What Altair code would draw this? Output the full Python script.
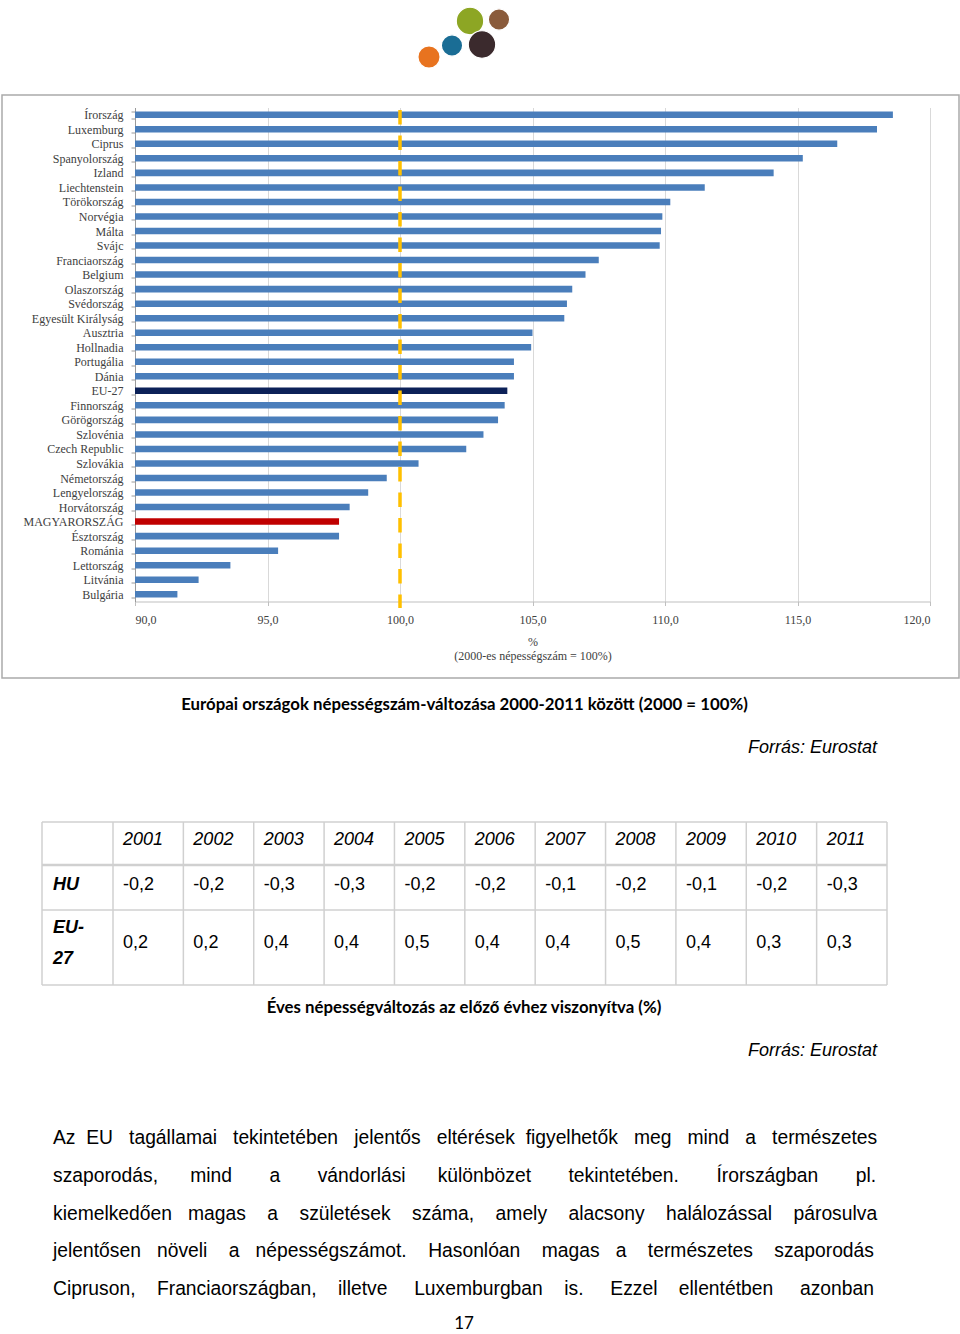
import altair as alt
import pandas as pd

# ---------------- data ----------------
COUNTRIES = ["Írország", "Luxemburg", "Ciprus", "Spanyolország", "Izland", "Liechtenstein",
             "Törökország", "Norvégia", "Málta", "Svájc", "Franciaország", "Belgium",
             "Olaszország", "Svédország", "Egyesült Királyság", "Ausztria", "Hollnadia",
             "Portugália", "Dánia", "EU-27", "Finnország", "Görögország", "Szlovénia",
             "Czech Republic", "Szlovákia", "Németország", "Lengyelország", "Horvátország",
             "MAGYARORSZÁG", "Észtország", "Románia", "Lettország", "Litvánia", "Bulgária"]
VALUES = [118.6, 118.0, 116.5, 115.2, 114.1, 111.5,
          110.2, 109.9, 109.85, 109.8, 107.5, 107.0,
          106.5, 106.3, 106.2, 105.0, 104.95,
          104.3, 104.3, 104.05, 103.95, 103.7, 103.15,
          102.5, 100.7, 99.5, 98.8, 98.1,
          97.7, 97.7, 95.4, 93.6, 92.4, 91.6]
REF = [100.0]
BASE = 90
X_TICKS = [90, 95, 100, 105, 110, 115, 120]

YEARS = [2001, 2002, 2003, 2004, 2005, 2006, 2007, 2008, 2009, 2010, 2011]
HU = [-0.2, -0.2, -0.3, -0.3, -0.2, -0.2, -0.1, -0.2, -0.1, -0.2, -0.3]
EU = [0.2, 0.2, 0.4, 0.4, 0.5, 0.4, 0.4, 0.5, 0.4, 0.3, 0.3]

CAPTION1 = "Európai országok népességszám-változása 2000-2011 között (2000 = 100%)"
CAPTION2 = "Éves népességváltozás az előző évhez viszonyítva (%)"
SOURCE = "Forrás: Eurostat"
PARAGRAPH = [
    "Az EU tagállamai tekintetében jelentős eltérések figyelhetők meg mind a természetes",
    "szaporodás, mind a vándorlási különbözet tekintetében. Írországban pl.",
    "kiemelkedően magas a születések száma, amely alacsony halálozással párosulva",
    "jelentősen növeli a népességszámot. Hasonlóan magas a természetes szaporodás",
    "Cipruson, Franciaországban, illetve Luxemburgban is. Ezzel ellentétben azonban",
]
PAGE = "17"

# ---------------- layout helpers ----------------
OX, OY = 135, 107.5          # plot origin on the page
W, H = 795, 494              # plot area size


def px(x):
    return x - OX


def py(y):
    return y - OY


SERIF = "Liberation Serif"
SANS = "Liberation Sans"
CAP_FONT = "Lato"

# Arial / Liberation Sans advance widths (per 1000 em) for justification
AW = dict(zip("abcdefghijklmnopqrstuvwxyz",
              [556, 556, 500, 556, 556, 278, 556, 556, 222, 222, 500, 222, 833,
               556, 556, 556, 556, 333, 500, 278, 556, 500, 722, 500, 500, 500]))
AW.update(dict(zip("ABCDEFGHIJKLMNOPQRSTUVWXYZ",
                   [667, 667, 722, 722, 667, 611, 778, 722, 278, 500, 667, 556, 833,
                    722, 778, 667, 778, 722, 667, 611, 722, 667, 944, 667, 667, 611])))
AW.update({"á": 556, "é": 556, "í": 278, "ó": 556, "ö": 556, "ő": 556, "ú": 556,
           "ü": 556, "ű": 556, "Í": 278, "É": 667, ",": 278, ".": 278, "-": 333, " ": 278})


def justify(line, width, size):
    """Stretch a line to the given width with non-breaking spaces (justified text)."""
    words = line.split(" ")
    nat = sum(AW.get(c, 556) for w in words for c in w) * size / 1000
    gaps = len(words) - 1
    sp = 278 * size / 1000
    total = max(gaps, round((width - nat) / sp))
    base, rem = divmod(total, gaps)
    out = words[0]
    for i, w in enumerate(words[1:]):
        extra = 1 if ((i + 1) * rem) // gaps > (i * rem) // gaps else 0
        out += "\u00a0" * (base + extra) + w
    return out


def label(text, x, y, size, font=SANS, align="left", weight="normal", style="normal", color="#000000"):
    return alt.Chart(pd.DataFrame({"t": [text]})).mark_text(
        align=align, baseline="middle", font=font, fontSize=size,
        fontWeight=weight, fontStyle=style, color=color
    ).encode(text="t:N", x=alt.value(px(x)), y=alt.value(py(y)))


one = pd.DataFrame({"k": [0]})


def hline(x1, x2, y, color="#D0D0D0", w=1.5):
    return alt.Chart(one).mark_rule(color=color, strokeWidth=w).encode(
        x=alt.value(px(x1)), x2=alt.value(px(x2)), y=alt.value(py(y)))


def vline(x, y1, y2, color="#D0D0D0", w=1.5):
    return alt.Chart(one).mark_rule(color=color, strokeWidth=w).encode(
        x=alt.value(px(x)), y=alt.value(py(y1)), y2=alt.value(py(y2)))


def dot(x, y, r, color):
    return alt.Chart(one).mark_circle(color=color, opacity=1, size=3.1416 * r * r,
                                      stroke="white", strokeWidth=1.2).encode(
        x=alt.value(px(x)), y=alt.value(py(y)))


# ---------------- logo ----------------
logo = [dot(429, 57, 12.5, "#E8731F"), dot(452, 45.5, 12, "#1A6D95"),
        dot(470, 21, 15.5, "#8DA624"), dot(499, 19.5, 12, "#8A5B3B"),
        dot(482, 44.5, 15.5, "#3B2A2D")]

# ---------------- chart box ----------------
box = alt.Chart(one).mark_rect(fill=None, stroke="#ABABAB", strokeWidth=1.5).encode(
    x=alt.value(px(2)), x2=alt.value(px(959)), y=alt.value(py(95)), y2=alt.value(py(678)))

# ---------------- bar chart ----------------
df = pd.DataFrame({"country": COUNTRIES, "value": VALUES})
X_ENC = alt.X(
    "value:Q",
    scale=alt.Scale(domain=[X_TICKS[0], X_TICKS[-1]], nice=False, zero=False),
    axis=alt.Axis(
        values=X_TICKS,
        labelExpr="replace(format(datum.value, '.1f'), '.', ',')",
        title=["%", "(2000-es népességszám = 100%)"],
        grid=True, gridColor="#D9D9D9", gridWidth=1,
        domainColor="#BFBFBF", tickColor="#BFBFBF", tickSize=4,
        labelFont=SERIF, labelFontSize=12, labelColor="#404040", labelPadding=9,
        titleFont=SERIF, titleFontSize=12, titleFontWeight="normal", titleColor="#404040",
        titlePadding=11, titleLineHeight=14,
    ),
)
bars = alt.Chart(df).mark_bar().encode(
    x=X_ENC,
    x2=alt.datum(BASE),
    y=alt.Y("country:N", sort=COUNTRIES,
            scale=alt.Scale(paddingInner=0.55, paddingOuter=0.275),
            axis=alt.Axis(title=None, labelFont=SERIF, labelFontSize=12, labelColor="#404040",
                          tickBand="extent", tickSize=4, tickColor="#9A9A9A",
                          domainColor="#9A9A9A", labelPadding=8, labelLimit=300, grid=False)),
    color=alt.when(alt.datum.country == "EU-27").then(alt.value("#0C2158"))
    .when(alt.datum.country == "MAGYARORSZÁG").then(alt.value("#C00000"))
    .otherwise(alt.value("#4A7EBB")),
)
ref_line = alt.Chart(pd.DataFrame({"value": REF})).mark_rule(
    color="#FFC000", strokeWidth=3.5, strokeDash=[14.5, 11]
).encode(x=X_ENC, y=alt.value(py(110)), y2=alt.value(py(608)))
bar_chart = alt.layer(bars, ref_line)

# ---------------- table ----------------
tdf = pd.DataFrame({"year": YEARS, "hu": HU, "eu": EU})
YX = alt.X("year:O",
           scale=alt.Scale(type="band", domain=YEARS, range=[px(113), px(887)],
                           paddingInner=0, paddingOuter=0),
           axis=None, bandPosition=0)
num = lambda f: "(datum.%s < 0 ? '-' : '') + replace(format(abs(datum.%s), '.1f'), '.', ',')" % (f, f)
tcell = dict(align="left", baseline="middle", dx=10, font=SANS, fontSize=18, color="#000000")
t_head = alt.Chart(tdf).mark_text(fontStyle="italic", **tcell).encode(
    x=YX, y=alt.value(py(840)), text="year:N")
t_hu = alt.Chart(tdf).transform_calculate(lbl=num("hu")).mark_text(**tcell).encode(
    x=YX, y=alt.value(py(885)), text="lbl:N")
t_eu = alt.Chart(tdf).transform_calculate(lbl=num("eu")).mark_text(**tcell).encode(
    x=YX, y=alt.value(py(943)), text="lbl:N")
t_vl = alt.Chart(tdf).mark_rule(color="#D0D0D0", strokeWidth=1.5).encode(
    x=YX, y=alt.value(py(822)), y2=alt.value(py(985)))
table = alt.layer(t_vl, t_head, t_hu, t_eu)

table_frame = [hline(42, 887, 822), hline(42, 887, 865, w=2.5), hline(42, 887, 910),
               hline(42, 887, 985), vline(42, 822, 985), vline(887, 822, 985)]
row_heads = [label("HU", 53, 885, 18, weight="bold", style="italic"),
             label("EU-", 53, 928, 18, weight="bold", style="italic"),
             label("27", 53, 959, 18, weight="bold", style="italic")]

# ---------------- captions and text ----------------
texts = [
    label(CAPTION1, 464.5, 705, 16.8, font=CAP_FONT, align="center", weight="bold"),
    label(SOURCE, 877, 748, 18, align="right", style="italic"),
    label(CAPTION2, 464, 1008, 16.8, font=CAP_FONT, align="center", weight="bold"),
    label(SOURCE, 877, 1051, 18, align="right", style="italic"),
    label(PAGE, 464, 1324, 17, font=CAP_FONT, align="center"),
]
PARA_Y = [1138, 1176, 1214, 1251, 1289]
for line, yy in zip(PARAGRAPH, PARA_Y):
    texts.append(label(justify(line, 823, 19.3), 53, yy, 19.3))

chart = alt.layer(
    box, *logo, bar_chart, table, *table_frame, *row_heads, *texts
).resolve_scale(x="independent", y="independent").properties(
    width=W, height=H,
    autosize=alt.AutoSizeParams(type="none"),
    padding={"left": OX, "top": OY, "right": 960 - OX - W, "bottom": 1334 - OY - H},
    background="white",
).configure_view(stroke=None)

chart.save("out.html", embed_options={"renderer": "svg", "actions": False})
